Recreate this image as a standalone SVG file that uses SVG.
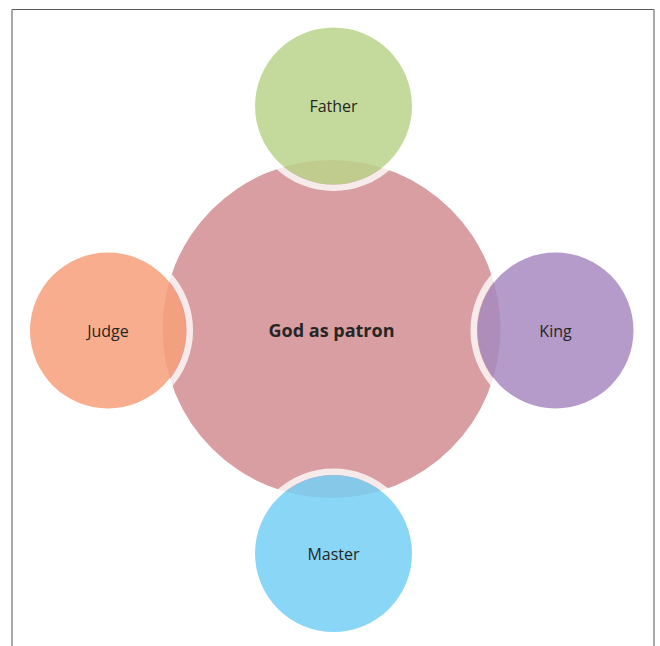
<svg xmlns="http://www.w3.org/2000/svg" width="660" height="646" viewBox="0 0 660 646">
<style>
.ring{fill:none;stroke:#ffffff;stroke-opacity:0.78;stroke-width:6.5}
.sat{fill-opacity:0.85}
.lbl{font-family:"Open Sans","Liberation Sans",sans-serif;font-size:16px;fill:#262626;text-anchor:middle;dominant-baseline:central}
.main{font-family:"Open Sans","Liberation Sans",sans-serif;font-size:18px;font-weight:bold;fill:#262626;text-anchor:middle;dominant-baseline:central}
</style>
<rect width="660" height="646" fill="#ffffff"/>
<g id="frame">
<line x1="12" y1="9.5" x2="654" y2="9.5" stroke="#5a5a5a" stroke-width="1.2"/>
<line x1="12" y1="9.5" x2="12" y2="646" stroke="#8c8c8c" stroke-width="1.5"/>
<line x1="654" y1="9.5" x2="654" y2="646" stroke="#8c8c8c" stroke-width="1.5"/>
</g>
<g id="god-as-patron">
<circle cx="331.5" cy="329" r="169" fill="#d99ea2"/>
<text class="main" x="331.5" y="330">God as patron</text>
</g>
<g id="father">
<circle class="ring" cx="333.5" cy="106" r="81.8"/>
<circle class="sat" cx="333.5" cy="106" r="78.5" fill="#bad38b"/>
<text class="lbl" x="333.5" y="106">Father</text>
</g>
<g id="king">
<circle class="ring" cx="555.5" cy="330.5" r="81.8"/>
<circle class="sat" cx="555.5" cy="330.5" r="78" fill="#a78ac0"/>
<text class="lbl" x="555.5" y="330.5">King</text>
</g>
<g id="master">
<circle class="ring" cx="333.5" cy="553.5" r="81.8"/>
<circle class="sat" cx="333.5" cy="553.5" r="78.5" fill="#75cff5"/>
<text class="lbl" x="333.5" y="553.5">Master</text>
</g>
<g id="judge">
<circle class="ring" cx="108" cy="330.5" r="81.8"/>
<circle class="sat" cx="108" cy="330.5" r="78" fill="#f7a07a"/>
<text class="lbl" x="108" y="330.5">Judge</text>
</g>
</svg>
